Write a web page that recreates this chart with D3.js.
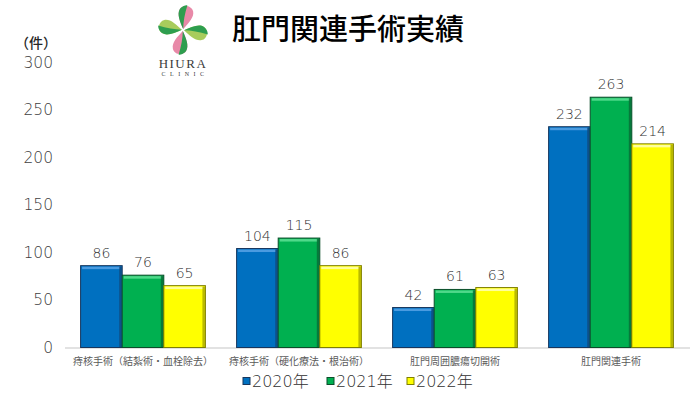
<!DOCTYPE html>
<html>
<head>
<meta charset="utf-8">
<script src="https://cdn.jsdelivr.net/npm/d3@7"></script>
<style>
  body { margin: 0; background: #fff; }
  text { font-family: "Noto Sans CJK JP", "Noto Sans", sans-serif; }
  .num { font-family: "DejaVu Sans", "Noto Sans CJK JP", sans-serif; font-weight: 200; }
</style>
</head>
<body>
<div id="chart"></div>
<script>
const categories = ["痔核手術（結紮術・血栓除去）", "痔核手術（硬化療法・根治術）", "肛門周囲膿瘍切開術", "肛門関連手術"]
const years = ["2020年", "2021年", "2022年"]
const values2020 = [86, 104, 42, 232]
const values2021 = [76, 115, 61, 263]
const values2022 = [65, 86, 63, 214]
const yTicks = [0, 50, 100, 150, 200, 250, 300]

const seriesColors = ["#0070C0", "#00B050", "#FFFF00"]
const seriesLight = ["#4A9BE0", "#4FD98A", "#FFFF9A"]
const seriesDark = ["#17365D", "#0B4D2A", "#7F7F00"]

const series = [values2020, values2021, values2022]

const width = 700
const height = 394

const svg = d3.select("#chart").append("svg")
    .attr("width", width)
    .attr("height", height)

const y = d3.scaleLinear().domain([0, 300]).range([347.5, 62])

const x0 = d3.scaleBand()
    .domain(categories)
    .range([65, 689])
    .paddingInner(0.2)
    .paddingOuter(0.1)

const x1 = d3.scaleBand()
    .domain(years)
    .range([0, x0.bandwidth()])

// baseline
svg.append("line")
    .attr("x1", 65).attr("x2", 690)
    .attr("y1", y(0) + 0.5).attr("y2", y(0) + 0.5)
    .attr("stroke", "#D9D9D9")
    .attr("stroke-width", 1.5)

// y axis labels
svg.selectAll(".ytick")
    .data(yTicks)
    .join("text")
    .attr("class", "ytick num")
    .attr("x", 53)
    .attr("y", d => y(d))
    .attr("dy", "0.36em")
    .attr("text-anchor", "end")
    .attr("font-size", 15.5)
    .attr("fill", "#404040")
    .text(d => d)

svg.append("text")
    .attr("x", 36).attr("y", 43)
    .attr("dy", "0.36em")
    .attr("text-anchor", "middle")
    .attr("font-size", 14)
    .attr("font-weight", 500)
    .attr("fill", "#262626")
    .text("（件）")

// bars
const groups = svg.selectAll(".group")
    .data(categories)
    .join("g")
    .attr("class", "group")
    .attr("transform", d => `translate(${x0(d)},0)`)

series.forEach(function (vals, si) {
    const bx = x1(years[si])
    const bw = x1.bandwidth()
    groups.each(function (cat, ci) {
        const g = d3.select(this)
        const top = y(vals[ci])
        const h = y(0) - top
        g.append("rect")
            .attr("x", bx).attr("y", top)
            .attr("width", bw).attr("height", h)
            .attr("fill", seriesColors[si])
            .attr("stroke", seriesDark[si])
            .attr("stroke-width", 1)
        // bevel highlight top
        g.append("rect")
            .attr("x", bx + 1.5).attr("y", top + 1)
            .attr("width", bw - 4).attr("height", 2.5)
            .attr("fill", seriesLight[si])
        // bevel shade right
        g.append("rect")
            .attr("x", bx + bw - 3).attr("y", top + 1)
            .attr("width", 2.5).attr("height", h - 1)
            .attr("fill", seriesDark[si])
            .attr("opacity", 0.55)
        g.append("text")
            .attr("class", "num")
            .attr("x", bx + bw / 2)
            .attr("y", top - 8)
            .attr("text-anchor", "middle")
            .attr("font-size", 14)
            .attr("fill", "#303030")
            .text(vals[ci])
    })
})

// category labels
svg.selectAll(".cat")
    .data(categories)
    .join("text")
    .attr("class", "cat")
    .attr("x", d => x0(d) + x0.bandwidth() / 2)
    .attr("y", 361)
    .attr("dy", "0.36em")
    .attr("text-anchor", "middle")
    .attr("font-size", 10)
    .attr("fill", "#595959")
    .text(d => d)

// legend
const legendX = [243, 327, 407]
const legend = svg.selectAll(".legend")
    .data(years)
    .join("g")
    .attr("class", "legend")
    .attr("transform", (d, i) => `translate(${legendX[i]},381)`)

legend.append("rect")
    .attr("x", 0).attr("y", -3.5)
    .attr("width", 7).attr("height", 7)
    .attr("fill", (d, i) => seriesColors[i])
    .attr("stroke", (d, i) => seriesDark[i])
    .attr("stroke-width", 1)

const legendText = legend.append("text")
    .attr("x", 9)
    .attr("dy", "0.36em")
    .attr("font-size", 16)
    .attr("fill", "#303030")
legendText.append("tspan").attr("class", "num").text(d => d.slice(0, 4))
legendText.append("tspan").attr("font-weight", 300).text(d => d.slice(4))

// title
svg.append("text")
    .attr("x", 232).attr("y", 30)
    .attr("dy", "0.36em")
    .attr("font-size", 29)
    .attr("font-weight", 500)
    .attr("fill", "#000")
    .text("肛門関連手術実績")

// logo
const logo = svg.append("g").attr("transform", "translate(183,30) scale(1.12)")
const petal = "M0,0 C-4,-6 -8,-12 -6,-17 C-4,-22 4,-22 6,-17 C8,-12 4,-6 0,0 Z"
const leftHalf = "M0,0 C-4,-6 -8,-12 -6,-17 C-4,-21 0,-21.5 0,-21.5 C-1,-14 -1,-6 0,0 Z"
const petalColors = [
    ["#2E9E4F", "#E889A8"],
    ["#2E9E4F", "#A8CC5C"],
    ["#2E9E4F", "#E889A8"],
    ["#2E9E4F", "#A8CC5C"]
]
const petalAngles = [10, 100, 190, 280]
petalAngles.forEach(function (a, i) {
    const p = logo.append("g").attr("transform", `rotate(${a}) translate(0,-1)`)
    p.append("path").attr("d", petal).attr("fill", petalColors[i][1])
    p.append("path").attr("d", leftHalf).attr("fill", petalColors[i][0])
})

svg.append("text")
    .attr("x", 183).attr("y", 68)
    .attr("text-anchor", "middle")
    .style("font-family", "'Liberation Serif', serif")
    .attr("font-size", 13)
    .attr("letter-spacing", 1.5)
    .attr("fill", "#3A3A3A")
    .text("HIURA")

svg.append("text")
    .attr("x", 185).attr("y", 76)
    .attr("text-anchor", "middle")
    .style("font-family", "'Liberation Serif', serif")
    .attr("font-size", 6)
    .attr("letter-spacing", 4.5)
    .attr("fill", "#3A3A3A")
    .text("CLINIC")
</script>
</body>
</html>
